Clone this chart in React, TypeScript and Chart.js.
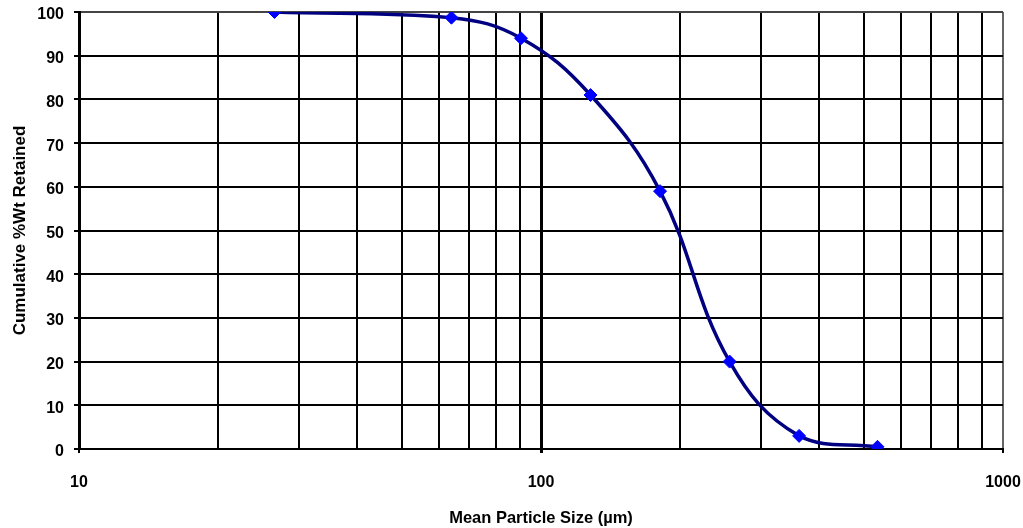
import React, { useEffect, useRef } from "react";
import { Chart, registerables } from "chart.js";

Chart.register(...registerables);

const sizes: number[] = [26.5, 64, 90.5, 128, 181, 256, 362, 535];
const retained: number[] = [100, 98.7, 94, 81, 59, 20, 3, 0.5];
const yTicks: number[] = [0, 10, 20, 30, 40, 50, 60, 70, 80, 90, 100];
const xLabelled: number[] = [10, 100, 1000];

const FONT = "'Liberation Sans', Arial, sans-serif";

export default function App() {
  const ref = useRef<HTMLCanvasElement | null>(null);
  useEffect(() => {
    document.body.style.margin = "0";
    const canvas = ref.current;
    if (!canvas) return;
    const chart = new Chart(canvas, {
      type: "line",
      data: {
        datasets: [
          {
            data: sizes.map((s, i) => ({ x: s, y: retained[i] })),
            borderColor: "#000080",
            borderWidth: 3.5,
            tension: 0.4,
            pointStyle: "rectRot",
            pointRadius: 6.5,
            pointBackgroundColor: "#0000FF",
            pointBorderColor: "#0000FF",
            pointBorderWidth: 1,
            fill: false,
          },
        ],
      },
      options: {
        responsive: false,
        animation: false,
        layout: { padding: { left: 0, right: 20, top: 12, bottom: 0 } },
        plugins: { legend: { display: false }, tooltip: { enabled: false } },
        scales: {
          x: {
            type: "logarithmic",
            min: 10,
            max: 1000,
            afterFit: (s: any) => {
              s.height = 79;
              s.paddingLeft = 0;
              s.paddingRight = 0;
            },
            afterBuildTicks: (s: any) => {
              const t: { value: number }[] = [];
              for (let d = 10; d < 1000; d *= 10) {
                for (let k = 1; k < 10; k++) t.push({ value: d * k });
              }
              t.push({ value: 1000 });
              s.ticks = t;
            },
            grid: {
              color: (c: any) => (c.tick && c.tick.value === 1000 ? "#666" : "#000"),
              lineWidth: (c: any) => (c.tick && c.tick.value === 100 ? 3 : 2),
              tickLength: 4,
              tickColor: (c: any) =>
                c.tick && xLabelled.includes(c.tick.value) ? "#000" : "rgba(0,0,0,0)",
            },
            border: { color: "#000", width: 2 },
            ticks: {
              autoSkip: false,
              maxRotation: 0,
              padding: 20,
              color: "#000",
              font: { family: FONT, size: 16, weight: "bold" },
              callback: (v: any) => (xLabelled.includes(Number(v)) ? String(v) : ""),
            },
            title: {
              display: true,
              text: "Mean Particle Size (µm)",
              color: "#000",
              font: { family: FONT, size: 16.5, weight: "bold" },
              padding: { top: 3, bottom: 0 },
            },
          },
          y: {
            min: 0,
            max: 100,
            afterFit: (s: any) => {
              s.width = 79;
              s.paddingTop = 0;
              s.paddingBottom = 0;
            },
            afterBuildTicks: (s: any) => {
              s.ticks = yTicks.map((v) => ({ value: v }));
            },
            grid: {
              color: (c: any) => (c.tick && c.tick.value === 100 ? "#444" : "#000"),
              lineWidth: 2,
              tickLength: 5,
              tickColor: "#000",
            },
            border: { color: "#000", width: 3 },
            ticks: {
              padding: 10,
              labelOffset: 3,
              color: "#000",
              font: { family: FONT, size: 16, weight: "bold" },
            },
            title: {
              display: true,
              text: "Cumulative %Wt Retained",
              color: "#000",
              font: { family: FONT, size: 17, weight: "bold" },
              padding: { top: 10, bottom: 4 },
            },
          },
        },
      },
    });
    return () => chart.destroy();
  }, []);
  return (
    <div style={{ width: 1023, height: 528, background: "#fff" }}>
      <canvas ref={ref} width={1023} height={528} />
    </div>
  );
}
